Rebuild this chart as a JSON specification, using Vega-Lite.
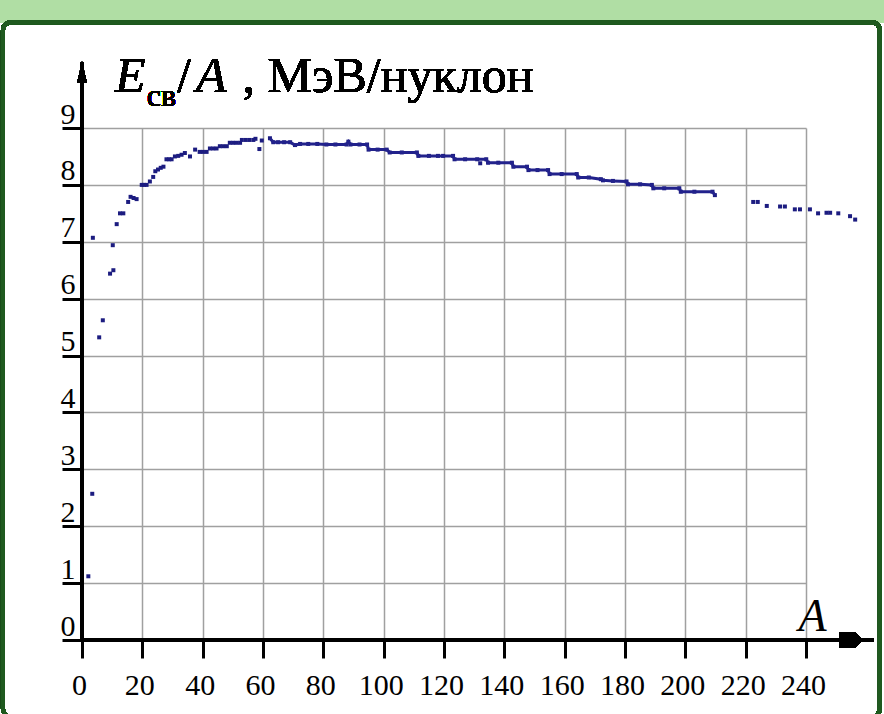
{
  "$schema": "https://vega.github.io/schema/vega-lite/v6.json",
  "width": 724,
  "height": 512,
  "autosize": {"type": "none"},
  "padding": {"left": 82, "top": 128, "right": 78, "bottom": 74},
  "background": "white",
  "config": {
    "view": {"stroke": null},
    "font": "Liberation Serif",
    "axis": {"ticks": true, "tickColor": "black", "tickWidth": 3, "tickOpacity": 1},
    "axisX": {"tickSize": 18},
    "axisY": {"tickSize": 20}
  },
  "data": {"values": [
    {"A": 2.1, "E": 1.12}, {"A": 3.4, "E": 2.57}, {"A": 3.6, "E": 7.07}, {"A": 5.7, "E": 5.32},
    {"A": 6.9, "E": 5.62}, {"A": 9.3, "E": 6.44}, {"A": 10.4, "E": 6.5}, {"A": 10.2, "E": 6.94},
    {"A": 11.5, "E": 7.31}, {"A": 12.6, "E": 7.5}, {"A": 13.7, "E": 7.5}, {"A": 15.3, "E": 7.7},
    {"A": 16.1, "E": 7.79}, {"A": 17.1, "E": 7.77}, {"A": 18.1, "E": 7.75}, {"A": 19.8, "E": 8.0},
    {"A": 20.6, "E": 8.0}, {"A": 21.4, "E": 8.0}, {"A": 22.5, "E": 8.06}, {"A": 23.6, "E": 8.14},
    {"A": 24.3, "E": 8.24}, {"A": 25.2, "E": 8.27}, {"A": 26.1, "E": 8.3}, {"A": 27.0, "E": 8.32},
    {"A": 28.0, "E": 8.45}, {"A": 28.9, "E": 8.45}, {"A": 29.7, "E": 8.45}, {"A": 30.8, "E": 8.5},
    {"A": 31.9, "E": 8.51}, {"A": 33.0, "E": 8.53}, {"A": 34.1, "E": 8.56}, {"A": 35.8, "E": 8.5},
    {"A": 37.5, "E": 8.62}, {"A": 39.0, "E": 8.58}, {"A": 40.1, "E": 8.58}, {"A": 41.3, "E": 8.58},
    {"A": 42.4, "E": 8.64}, {"A": 43.5, "E": 8.64}, {"A": 44.6, "E": 8.64}, {"A": 45.7, "E": 8.68},
    {"A": 46.8, "E": 8.68}, {"A": 48.0, "E": 8.68}, {"A": 49.0, "E": 8.74}, {"A": 50.1, "E": 8.74},
    {"A": 51.2, "E": 8.74}, {"A": 52.4, "E": 8.74}, {"A": 53.0, "E": 8.79}, {"A": 54.3, "E": 8.79},
    {"A": 55.5, "E": 8.79}, {"A": 56.8, "E": 8.79}, {"A": 57.5, "E": 8.81}, {"A": 58.8, "E": 8.63},
    {"A": 59.6, "E": 8.78}, {"A": 62.3, "E": 8.82}, {"A": 63.4, "E": 8.75}, {"A": 65, "E": 8.75},
    {"A": 67, "E": 8.75}, {"A": 69, "E": 8.75}, {"A": 70.6, "E": 8.7}, {"A": 72.3, "E": 8.72},
    {"A": 75, "E": 8.72}, {"A": 78, "E": 8.72}, {"A": 81, "E": 8.71}, {"A": 84, "E": 8.71},
    {"A": 87.7, "E": 8.71}, {"A": 88.3, "E": 8.76}, {"A": 89, "E": 8.71}, {"A": 92, "E": 8.71},
    {"A": 94.5, "E": 8.71}, {"A": 95, "E": 8.62}, {"A": 98, "E": 8.62}, {"A": 101, "E": 8.62},
    {"A": 102, "E": 8.57}, {"A": 106, "E": 8.57}, {"A": 111, "E": 8.57}, {"A": 111.5, "E": 8.51},
    {"A": 115, "E": 8.51}, {"A": 118, "E": 8.51}, {"A": 119.7, "E": 8.51}, {"A": 123, "E": 8.51},
    {"A": 123.5, "E": 8.45}, {"A": 127, "E": 8.45}, {"A": 131, "E": 8.45}, {"A": 132, "E": 8.38},
    {"A": 134, "E": 8.45}, {"A": 134.6, "E": 8.39}, {"A": 138, "E": 8.39}, {"A": 142.5, "E": 8.39},
    {"A": 143, "E": 8.32}, {"A": 147.5, "E": 8.32}, {"A": 148, "E": 8.26}, {"A": 151, "E": 8.26},
    {"A": 154.5, "E": 8.26}, {"A": 155, "E": 8.19}, {"A": 159, "E": 8.19}, {"A": 164, "E": 8.19},
    {"A": 164.5, "E": 8.13}, {"A": 168, "E": 8.13}, {"A": 172, "E": 8.1}, {"A": 172.7, "E": 8.08},
    {"A": 176, "E": 8.07}, {"A": 180.5, "E": 8.06}, {"A": 181, "E": 8.01}, {"A": 185, "E": 8.01},
    {"A": 188.9, "E": 8.0}, {"A": 189.4, "E": 7.94}, {"A": 193, "E": 7.94}, {"A": 198, "E": 7.94},
    {"A": 198.5, "E": 7.88}, {"A": 203, "E": 7.88}, {"A": 209, "E": 7.88}, {"A": 209.8, "E": 7.82},
    {"A": 222.5, "E": 7.7}, {"A": 224, "E": 7.7}, {"A": 227, "E": 7.63}, {"A": 231.4, "E": 7.62},
    {"A": 233, "E": 7.62}, {"A": 236.3, "E": 7.57}, {"A": 238, "E": 7.57}, {"A": 241.3, "E": 7.57},
    {"A": 244, "E": 7.5}, {"A": 246.8, "E": 7.51}, {"A": 248, "E": 7.51}, {"A": 250.7, "E": 7.5},
    {"A": 254.6, "E": 7.45}, {"A": 256.3, "E": 7.39}
  ]},
  "layer": [
    {
      "mark": {"type": "rect", "fill": "#b0dea4", "clip": false},
      "encoding": {
        "x": {"datum": -30, "type": "quantitative", "scale": {"domain": [0, 240], "nice": false},
          "axis": {"values": [0, 20, 40, 60, 80, 100, 120, 140, 160, 180, 200, 220, 240],
            "format": "d", "domain": false, "grid": true, "gridColor": "#a0a0a0", "gridWidth": 1.5,
            "ticks": true, "tickSize": 18, "tickWidth": 3, "tickColor": "black",
            "labelFont": "Liberation Serif", "labelFontSize": 30, "labelColor": "black",
            "labelPadding": 12, "labelOffset": -3, "labelFlush": false, "labelOverlap": false,
            "title": "A", "titleFont": "Liberation Serif", "titleFontStyle": "italic", "titleFontWeight": "normal",
            "titleFontSize": 46, "titleColor": "black", "titleX": 716, "titleY": -10,
            "titleAlign": "left", "titleBaseline": "alphabetic"}},
        "x2": {"datum": 270},
        "y": {"datum": 10.86, "type": "quantitative", "scale": {"domain": [0, 9], "nice": false},
          "axis": {"values": [0, 1, 2, 3, 4, 5, 6, 7, 8, 9],
            "format": "d", "domain": false, "grid": true, "gridColor": "#a0a0a0", "gridWidth": 1.5,
            "ticks": true, "tickSize": 20, "tickWidth": 3, "tickColor": "black",
            "labelFont": "Liberation Serif", "labelFontSize": 30, "labelColor": "black",
            "labelPadding": -13, "labelBaseline": "alphabetic", "labelOffset": -5,
            "labelFlush": false, "labelOverlap": false, "title": null}},
        "y2": {"datum": 11.4}
      }
    },
    {
      "mark": {"type": "rect", "fillOpacity": 0, "stroke": "#1f5a1f", "strokeWidth": 4, "cornerRadius": 8, "clip": false},
      "encoding": {
        "x": {"datum": -26.2, "type": "quantitative"},
        "x2": {"datum": 264.5},
        "y": {"datum": 10.86, "type": "quantitative"},
        "y2": {"datum": -1.35}
      }
    },
    {
      "mark": {"type": "point", "shape": "square", "filled": true, "size": 16, "color": "#1c1c80", "opacity": 1, "clip": false},
      "encoding": {
        "x": {"field": "A", "type": "quantitative"},
        "y": {"field": "E", "type": "quantitative"}
      }
    },
    {
      "transform": [{"filter": "datum.A >= 62 && datum.A <= 211 && datum.A != 132"}],
      "mark": {"type": "line", "color": "#22228c", "strokeWidth": 3, "clip": false},
      "encoding": {
        "x": {"field": "A", "type": "quantitative"},
        "y": {"field": "E", "type": "quantitative"}
      }
    },
    {
      "mark": {"type": "rule", "color": "black", "strokeWidth": 3, "clip": false},
      "encoding": {
        "x": {"datum": 0, "type": "quantitative"},
        "x2": {"datum": 262.5},
        "y": {"datum": 0, "type": "quantitative"}
      }
    },
    {
      "mark": {"type": "rule", "color": "black", "strokeWidth": 3, "clip": false},
      "encoding": {
        "x": {"datum": 0, "type": "quantitative"},
        "y": {"datum": 0, "type": "quantitative"},
        "y2": {"datum": 10.15}
      }
    },
    {
      "mark": {"type": "point", "shape": "M1,0L0.3,-0.7L-1,-0.7L-1,0.7L0.3,0.7Z", "filled": true, "size": 529, "color": "black", "opacity": 1, "clip": false},
      "encoding": {
        "x": {"datum": 255, "type": "quantitative"},
        "y": {"datum": 0, "type": "quantitative"}
      }
    },
    {
      "mark": {"type": "point", "shape": "M0,-1L0.45,1L-0.45,1Z", "filled": true, "size": 440, "color": "black", "opacity": 1, "clip": false},
      "encoding": {
        "x": {"datum": 0, "type": "quantitative"},
        "y": {"datum": 9.98, "type": "quantitative"}
      }
    },
    {
      "mark": {"type": "text", "font": "Liberation Serif", "fontStyle": "italic", "fontSize": 50, "align": "left", "baseline": "alphabetic", "color": "black", "clip": false},
      "encoding": {
        "x": {"datum": 10.9, "type": "quantitative"},
        "y": {"datum": 9.63, "type": "quantitative"},
        "text": {"value": "E"}
      }
    },
    {
      "mark": {"type": "text", "font": "Liberation Serif", "fontSize": 32, "align": "left", "baseline": "alphabetic", "color": "black", "clip": false},
      "encoding": {
        "x": {"datum": 21.5, "type": "quantitative"},
        "y": {"datum": 9.39, "type": "quantitative"},
        "text": {"value": "св"}
      }
    },
    {
      "mark": {"type": "text", "font": "Liberation Serif", "fontSize": 50, "align": "left", "baseline": "alphabetic", "color": "black", "clip": false},
      "encoding": {
        "x": {"datum": 31.5, "type": "quantitative"},
        "y": {"datum": 9.63, "type": "quantitative"},
        "text": {"value": "/"}
      }
    },
    {
      "mark": {"type": "text", "font": "Liberation Serif", "fontStyle": "italic", "fontSize": 50, "align": "left", "baseline": "alphabetic", "color": "black", "clip": false},
      "encoding": {
        "x": {"datum": 37.8, "type": "quantitative"},
        "y": {"datum": 9.63, "type": "quantitative"},
        "text": {"value": "A"}
      }
    },
    {
      "mark": {"type": "text", "font": "Liberation Serif", "fontSize": 50, "align": "left", "baseline": "alphabetic", "color": "black", "clip": false},
      "encoding": {
        "x": {"datum": 53.2, "type": "quantitative"},
        "y": {"datum": 9.63, "type": "quantitative"},
        "text": {"value": ", МэВ/нуклон"}
      }
    }
  ]
}
